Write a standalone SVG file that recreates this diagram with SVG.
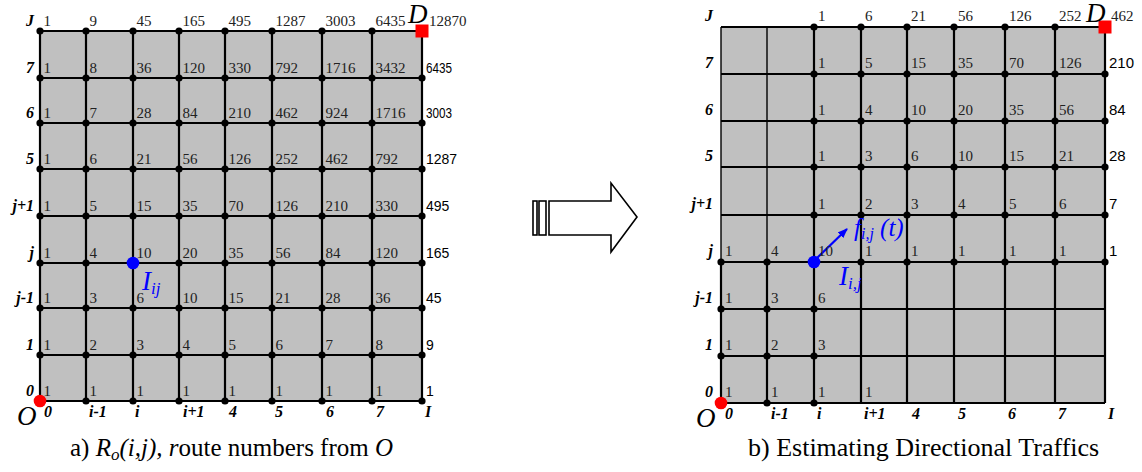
<svg xmlns="http://www.w3.org/2000/svg" width="1142" height="472" viewBox="0 0 1142 472">
<defs>
<style>
.bg{fill:#c0c0c0;stroke:none}
.ln{stroke:#000;stroke-width:2.2;fill:none}
.lt{stroke:#000;stroke-width:1.4;fill:none}
.d{fill:#000}
.n{font-family:'Liberation Serif','DejaVu Serif',serif;font-size:15px;fill:#222}
.s{font-family:'Liberation Sans','DejaVu Sans',sans-serif;font-size:14px;fill:#000}
.s2{font-family:'Liberation Sans','DejaVu Sans',sans-serif;font-size:15px;fill:#000}
.rl{font-family:'Liberation Serif','DejaVu Serif',serif;font-size:16px;font-weight:bold;font-style:italic;text-anchor:end;fill:#000}
.cl{font-family:'Liberation Serif','DejaVu Serif',serif;font-size:16px;font-weight:bold;font-style:italic;fill:#000}
.big{font-family:'Liberation Serif','DejaVu Serif',serif;font-size:27px;font-style:italic;fill:#000}
.cap{font-family:'Liberation Serif','DejaVu Serif',serif;font-size:25px;fill:#000}
.blue{font-family:'Liberation Serif','DejaVu Serif',serif;font-style:italic;fill:#0000ff}
</style>
<marker id="ah" markerWidth="10" markerHeight="8" refX="9" refY="4" orient="auto" markerUnits="userSpaceOnUse">
<path d="M0,0 L10,4 L0,8 Z" fill="#0000ff"/>
</marker>
</defs>
<rect width="1142" height="472" fill="#fff"/>

<!-- LEFT GRID -->
<g id="grid-a">
<rect class="bg" x="40" y="31" width="382" height="370"/>
<g class="ln">
<path d="M40,31H422M40,78H422M40,123H422M40,169H422M40,216H422M40,263H422M40,308H422M40,355H422M40,401H422"/>
<path d="M40,31V401M86,31V401M133,31V401M179,31V401M225,31V401M272,31V401M322,31V401M372,31V401M422,31V401"/>
</g>
</g>
<g id="nodes-a" class="d">
<g id="a-row-J"><circle cx="40" cy="31" r="3.6"/><circle cx="86" cy="31" r="3.6"/><circle cx="133" cy="31" r="3.6"/><circle cx="179" cy="31" r="3.6"/><circle cx="225" cy="31" r="3.6"/><circle cx="272" cy="31" r="3.6"/><circle cx="322" cy="31" r="3.6"/><circle cx="372" cy="31" r="3.6"/></g>
<g id="a-row-7"><circle cx="40" cy="78" r="3.6"/><circle cx="86" cy="78" r="3.6"/><circle cx="133" cy="78" r="3.6"/><circle cx="179" cy="78" r="3.6"/><circle cx="225" cy="78" r="3.6"/><circle cx="272" cy="78" r="3.6"/><circle cx="322" cy="78" r="3.6"/><circle cx="372" cy="78" r="3.6"/><circle cx="422" cy="78" r="3.6"/></g>
<g id="a-row-6"><circle cx="40" cy="123" r="3.6"/><circle cx="86" cy="123" r="3.6"/><circle cx="133" cy="123" r="3.6"/><circle cx="179" cy="123" r="3.6"/><circle cx="225" cy="123" r="3.6"/><circle cx="272" cy="123" r="3.6"/><circle cx="322" cy="123" r="3.6"/><circle cx="372" cy="123" r="3.6"/><circle cx="422" cy="123" r="3.6"/></g>
<g id="a-row-5"><circle cx="40" cy="169" r="3.6"/><circle cx="86" cy="169" r="3.6"/><circle cx="133" cy="169" r="3.6"/><circle cx="179" cy="169" r="3.6"/><circle cx="225" cy="169" r="3.6"/><circle cx="272" cy="169" r="3.6"/><circle cx="322" cy="169" r="3.6"/><circle cx="372" cy="169" r="3.6"/><circle cx="422" cy="169" r="3.6"/></g>
<g id="a-row-j1"><circle cx="40" cy="216" r="3.6"/><circle cx="86" cy="216" r="3.6"/><circle cx="133" cy="216" r="3.6"/><circle cx="179" cy="216" r="3.6"/><circle cx="225" cy="216" r="3.6"/><circle cx="272" cy="216" r="3.6"/><circle cx="322" cy="216" r="3.6"/><circle cx="372" cy="216" r="3.6"/><circle cx="422" cy="216" r="3.6"/></g>
<g id="a-row-j"><circle cx="40" cy="263" r="3.6"/><circle cx="86" cy="263" r="3.6"/><circle cx="179" cy="263" r="3.6"/><circle cx="225" cy="263" r="3.6"/><circle cx="272" cy="263" r="3.6"/><circle cx="322" cy="263" r="3.6"/><circle cx="372" cy="263" r="3.6"/><circle cx="422" cy="263" r="3.6"/></g>
<g id="a-row-jm1"><circle cx="40" cy="308" r="3.6"/><circle cx="86" cy="308" r="3.6"/><circle cx="133" cy="308" r="3.6"/><circle cx="179" cy="308" r="3.6"/><circle cx="225" cy="308" r="3.6"/><circle cx="272" cy="308" r="3.6"/><circle cx="322" cy="308" r="3.6"/><circle cx="372" cy="308" r="3.6"/><circle cx="422" cy="308" r="3.6"/></g>
<g id="a-row-1"><circle cx="40" cy="355" r="3.6"/><circle cx="86" cy="355" r="3.6"/><circle cx="133" cy="355" r="3.6"/><circle cx="179" cy="355" r="3.6"/><circle cx="225" cy="355" r="3.6"/><circle cx="272" cy="355" r="3.6"/><circle cx="322" cy="355" r="3.6"/><circle cx="372" cy="355" r="3.6"/><circle cx="422" cy="355" r="3.6"/></g>
<g id="a-row-0"><circle cx="86" cy="401" r="3.6"/><circle cx="133" cy="401" r="3.6"/><circle cx="179" cy="401" r="3.6"/><circle cx="225" cy="401" r="3.6"/><circle cx="272" cy="401" r="3.6"/><circle cx="322" cy="401" r="3.6"/><circle cx="372" cy="401" r="3.6"/><circle cx="422" cy="401" r="3.6"/></g>
</g>
<g id="a-O"><circle cx="40" cy="401" r="6.3" fill="#ff0000"/><text class="big" x="17" y="425">O</text></g>
<g id="a-D"><rect x="415.5" y="24.5" width="13" height="13" fill="#ff0000"/><text class="big" x="408" y="23">D</text></g>
<g id="a-I"><circle cx="133" cy="263" r="6.3" fill="#0000ff"/><text class="blue" x="142" y="290" font-size="27">I<tspan font-size="17" dy="4">ij</tspan></text></g>

<g id="a-values" class="n">
<text y="26"><tspan x="43.5">1</tspan><tspan x="89.5">9</tspan><tspan x="136.5">45</tspan><tspan x="182.5">165</tspan><tspan x="228.5">495</tspan><tspan x="275.5">1287</tspan><tspan x="325.5">3003</tspan><tspan x="375.5">6435</tspan><tspan x="429">12870</tspan></text>
<text y="73"><tspan x="43.5">1</tspan><tspan x="89.5">8</tspan><tspan x="136.5">36</tspan><tspan x="182.5">120</tspan><tspan x="228.5">330</tspan><tspan x="275.5">792</tspan><tspan x="325.5">1716</tspan><tspan x="375.5">3432</tspan></text>
<text y="118"><tspan x="43.5">1</tspan><tspan x="89.5">7</tspan><tspan x="136.5">28</tspan><tspan x="182.5">84</tspan><tspan x="228.5">210</tspan><tspan x="275.5">462</tspan><tspan x="325.5">924</tspan><tspan x="375.5">1716</tspan></text>
<text y="164"><tspan x="43.5">1</tspan><tspan x="89.5">6</tspan><tspan x="136.5">21</tspan><tspan x="182.5">56</tspan><tspan x="228.5">126</tspan><tspan x="275.5">252</tspan><tspan x="325.5">462</tspan><tspan x="375.5">792</tspan></text>
<text y="211"><tspan x="43.5">1</tspan><tspan x="89.5">5</tspan><tspan x="136.5">15</tspan><tspan x="182.5">35</tspan><tspan x="228.5">70</tspan><tspan x="275.5">126</tspan><tspan x="325.5">210</tspan><tspan x="375.5">330</tspan></text>
<text y="258"><tspan x="43.5">1</tspan><tspan x="89.5">4</tspan><tspan x="136.5">10</tspan><tspan x="182.5">20</tspan><tspan x="228.5">35</tspan><tspan x="275.5">56</tspan><tspan x="325.5">84</tspan><tspan x="375.5">120</tspan></text>
<text y="303"><tspan x="43.5">1</tspan><tspan x="89.5">3</tspan><tspan x="136.5">6</tspan><tspan x="182.5">10</tspan><tspan x="228.5">15</tspan><tspan x="275.5">21</tspan><tspan x="325.5">28</tspan><tspan x="375.5">36</tspan></text>
<text y="350"><tspan x="43.5">1</tspan><tspan x="89.5">2</tspan><tspan x="136.5">3</tspan><tspan x="182.5">4</tspan><tspan x="228.5">5</tspan><tspan x="275.5">6</tspan><tspan x="325.5">7</tspan><tspan x="375.5">8</tspan></text>
<text y="396"><tspan x="43.5">1</tspan><tspan x="89.5">1</tspan><tspan x="136.5">1</tspan><tspan x="182.5">1</tspan><tspan x="228.5">1</tspan><tspan x="275.5">1</tspan><tspan x="325.5">1</tspan><tspan x="375.5">1</tspan></text>
</g>
<g id="a-rightcol" class="s">
<text x="426" y="73" textLength="26" lengthAdjust="spacingAndGlyphs">6435</text>
<text x="426" y="118" textLength="26" lengthAdjust="spacingAndGlyphs">3003</text>
<text x="426" y="164">1287</text>
<text x="426" y="211">495</text>
<text x="426" y="258">165</text>
<text x="426" y="303">45</text>
<text x="426" y="350">9</text>
<text x="426" y="396">1</text>
</g>
<g id="a-rowlabels" class="rl">
<text x="34" y="26">J</text><text x="34" y="73">7</text><text x="34" y="118">6</text><text x="34" y="164">5</text><text x="34" y="211">j+1</text><text x="34" y="258">j</text><text x="34" y="303">j-1</text><text x="34" y="350">1</text><text x="34" y="396">0</text>
</g>
<g id="a-collabels" class="cl">
<text x="44" y="417">0</text><text x="89" y="417">i-1</text><text x="135" y="417">i</text><text x="183" y="417">i+1</text><text x="229" y="417">4</text><text x="275" y="417">5</text><text x="326" y="417">6</text><text x="376" y="417">7</text><text x="425" y="417">I</text>
</g>
<g id="caption-a" class="cap">
<text x="70" y="456">a) <tspan font-style="italic">R</tspan><tspan font-style="italic" font-size="17" dy="4">o</tspan><tspan font-style="italic" dy="-4">(i,j), r</tspan>oute numbers from <tspan font-style="italic">O</tspan></text>
</g>

<!-- BIG ARROW -->
<g id="transform-arrow" fill="#fff" stroke="#000" stroke-width="1.6">
<rect x="533" y="201" width="4" height="34"/>
<rect x="539" y="201" width="7" height="34"/>
<polygon points="549,201 611,201 611,183 637,217 611,252 611,235 549,235"/>
</g>

<!-- RIGHT GRID -->
<g id="grid-b">
<rect class="bg" x="721" y="27" width="384" height="376"/>
<g class="ln">
<path d="M721,27H1105M721,74H1105M721,121H1105M721,167H1105M721,215H1105M721,262H1105M721,309H1105M721,356H1105M721,403H1105"/>
<path d="M721,262V403M767,262V403M814,27V403M861,27V403M907,27V403M954,27V403M1005,27V403M1055,27V403M1105,27V403"/>
</g>
<path class="lt" d="M721,27V262M767,27V262"/>
</g>
<g id="nodes-b" class="d">
<g id="b-row-J"><circle cx="814" cy="27" r="3.6"/><circle cx="861" cy="27" r="3.6"/><circle cx="907" cy="27" r="3.6"/><circle cx="954" cy="27" r="3.6"/><circle cx="1005" cy="27" r="3.6"/><circle cx="1055" cy="27" r="3.6"/></g>
<g id="b-row-7"><circle cx="814" cy="74" r="3.6"/><circle cx="861" cy="74" r="3.6"/><circle cx="907" cy="74" r="3.6"/><circle cx="954" cy="74" r="3.6"/><circle cx="1005" cy="74" r="3.6"/><circle cx="1055" cy="74" r="3.6"/><circle cx="1105" cy="74" r="3.6"/></g>
<g id="b-row-6"><circle cx="814" cy="121" r="3.6"/><circle cx="861" cy="121" r="3.6"/><circle cx="907" cy="121" r="3.6"/><circle cx="954" cy="121" r="3.6"/><circle cx="1005" cy="121" r="3.6"/><circle cx="1055" cy="121" r="3.6"/><circle cx="1105" cy="121" r="3.6"/></g>
<g id="b-row-5"><circle cx="814" cy="167" r="3.6"/><circle cx="861" cy="167" r="3.6"/><circle cx="907" cy="167" r="3.6"/><circle cx="954" cy="167" r="3.6"/><circle cx="1005" cy="167" r="3.6"/><circle cx="1055" cy="167" r="3.6"/><circle cx="1105" cy="167" r="3.6"/></g>
<g id="b-row-j1"><circle cx="814" cy="215" r="3.6"/><circle cx="861" cy="215" r="3.6"/><circle cx="907" cy="215" r="3.6"/><circle cx="954" cy="215" r="3.6"/><circle cx="1005" cy="215" r="3.6"/><circle cx="1055" cy="215" r="3.6"/><circle cx="1105" cy="215" r="3.6"/></g>
<g id="b-row-j"><circle cx="721" cy="262" r="3.6"/><circle cx="767" cy="262" r="3.6"/><circle cx="861" cy="262" r="3.6"/><circle cx="907" cy="262" r="3.6"/><circle cx="954" cy="262" r="3.6"/><circle cx="1005" cy="262" r="3.6"/><circle cx="1055" cy="262" r="3.6"/><circle cx="1105" cy="262" r="3.6"/></g>
<g id="b-row-jm1"><circle cx="721" cy="309" r="3.6"/><circle cx="767" cy="309" r="3.6"/><circle cx="814" cy="309" r="3.6"/></g>
<g id="b-row-1"><circle cx="721" cy="356" r="3.6"/><circle cx="767" cy="356" r="3.6"/><circle cx="814" cy="356" r="3.6"/></g>
<g id="b-row-0"><circle cx="767" cy="403" r="3.6"/><circle cx="814" cy="403" r="3.6"/></g>
</g>
<g id="b-O"><circle cx="721" cy="403" r="6.3" fill="#ff0000"/><text class="big" x="696" y="427">O</text></g>
<g id="b-D"><rect x="1098.5" y="20.5" width="13" height="13" fill="#ff0000"/><text class="big" x="1086" y="22" font-size="26">D</text></g>
<g id="b-I"><circle cx="814" cy="262" r="6.3" fill="#0000ff"/><text class="blue" x="839" y="285" font-size="27">I<tspan font-size="17" dy="4">i,j</tspan></text></g>
<g id="connectors">
<line x1="817" y1="258" x2="847" y2="229" stroke="#0000ff" stroke-width="2.2" marker-end="url(#ah)"/>
</g>
<g id="b-flow"><text class="blue" x="854" y="236" font-size="25">f<tspan font-size="16" dy="3">i,j</tspan><tspan dy="-3"> (t)</tspan></text></g>

<g id="b-values" class="n">
<text y="21"><tspan x="818">1</tspan><tspan x="865">6</tspan><tspan x="911">21</tspan><tspan x="958">56</tspan><tspan x="1009">126</tspan><tspan x="1059">252</tspan><tspan x="1111">462</tspan></text>
<text y="68"><tspan x="818">1</tspan><tspan x="865">5</tspan><tspan x="911">15</tspan><tspan x="958">35</tspan><tspan x="1009">70</tspan><tspan x="1059">126</tspan></text>
<text y="115"><tspan x="818">1</tspan><tspan x="865">4</tspan><tspan x="911">10</tspan><tspan x="958">20</tspan><tspan x="1009">35</tspan><tspan x="1059">56</tspan></text>
<text y="161"><tspan x="818">1</tspan><tspan x="865">3</tspan><tspan x="911">6</tspan><tspan x="958">10</tspan><tspan x="1009">15</tspan><tspan x="1059">21</tspan></text>
<text y="209"><tspan x="818">1</tspan><tspan x="865">2</tspan><tspan x="911">3</tspan><tspan x="958">4</tspan><tspan x="1009">5</tspan><tspan x="1059">6</tspan></text>
<text y="256"><tspan x="725">1</tspan><tspan x="771">4</tspan><tspan x="818">10</tspan><tspan x="865">1</tspan><tspan x="911">1</tspan><tspan x="958">1</tspan><tspan x="1009">1</tspan><tspan x="1059">1</tspan></text>
<text y="303"><tspan x="725">1</tspan><tspan x="771">3</tspan><tspan x="818">6</tspan></text>
<text y="350"><tspan x="725">1</tspan><tspan x="771">2</tspan><tspan x="818">3</tspan></text>
<text y="397"><tspan x="725">1</tspan><tspan x="771">1</tspan><tspan x="818">1</tspan><tspan x="865">1</tspan></text>
</g>
<g id="b-rightcol" class="s2">
<text x="1109" y="68">210</text>
<text x="1109" y="115">84</text>
<text x="1109" y="161">28</text>
<text x="1109" y="209">7</text>
<text x="1109" y="256">1</text>
</g>
<g id="b-rowlabels" class="rl">
<text x="713" y="21">J</text><text x="713" y="68">7</text><text x="713" y="115">6</text><text x="713" y="161">5</text><text x="713" y="209">j+1</text><text x="713" y="256">j</text><text x="713" y="303">j-1</text><text x="713" y="350">1</text><text x="713" y="397">0</text>
</g>
<g id="b-collabels" class="cl">
<text x="725" y="419">0</text><text x="771" y="419">i-1</text><text x="817" y="419">i</text><text x="864" y="419">i+1</text><text x="912" y="419">4</text><text x="958" y="419">5</text><text x="1008" y="419">6</text><text x="1058" y="419">7</text><text x="1108" y="419">I</text>
</g>
<g id="caption-b" class="cap">
<text x="748" y="456" font-size="26">b) Estimating Directional Traffics</text>
</g>
</svg>
